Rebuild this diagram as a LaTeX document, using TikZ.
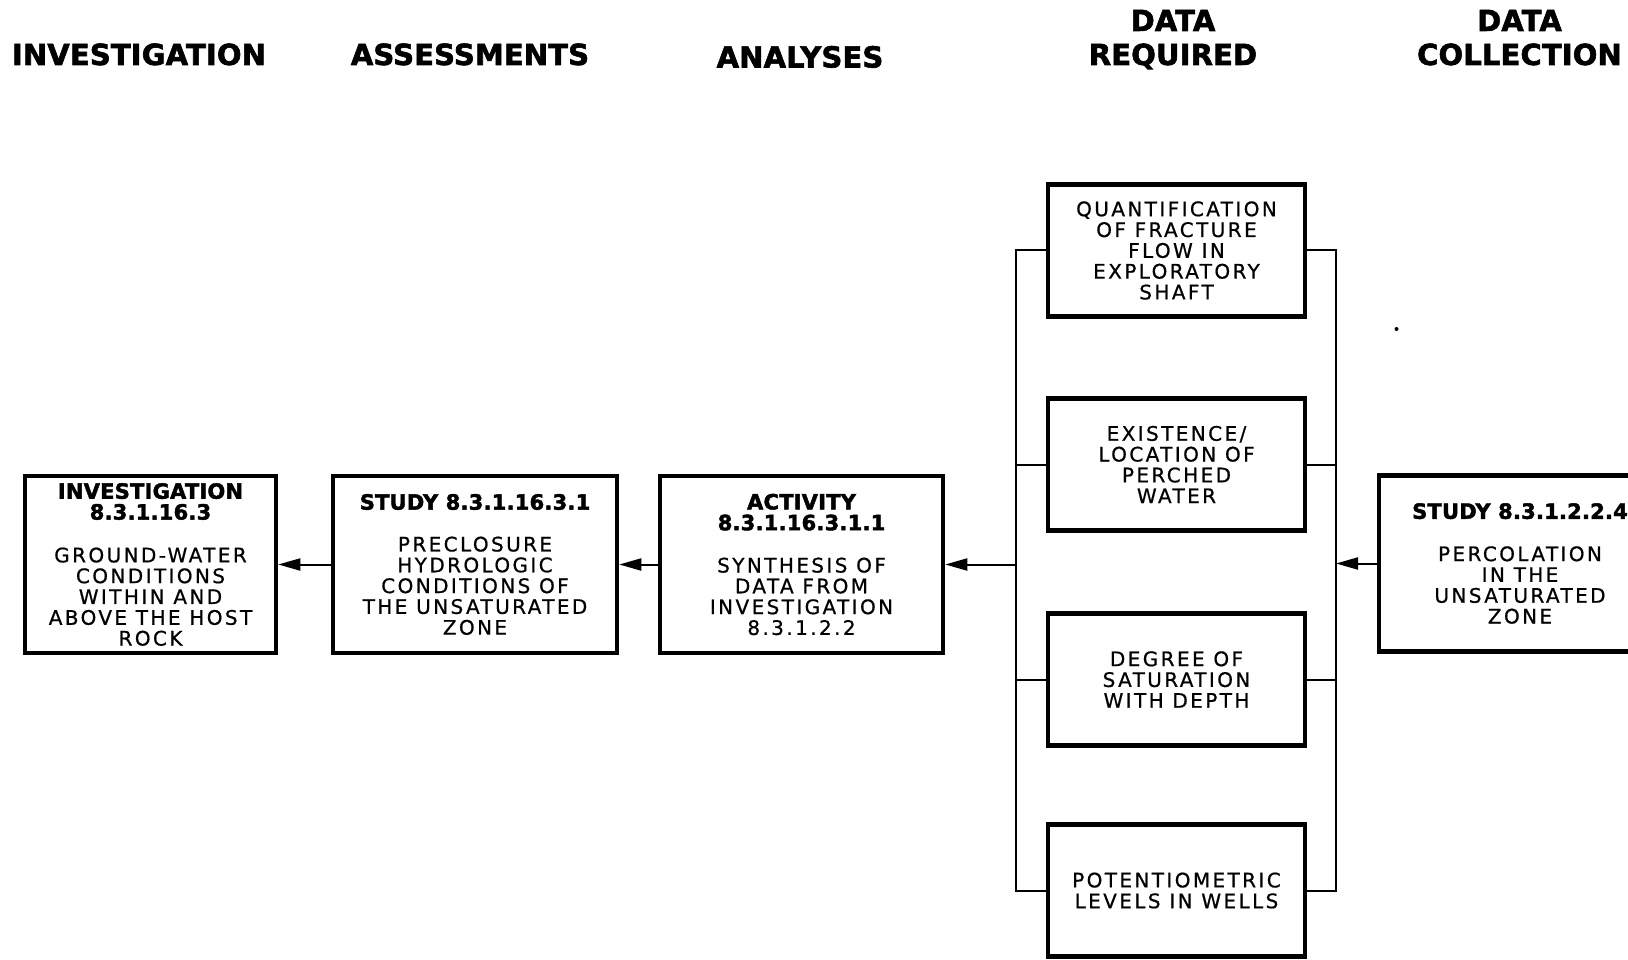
\documentclass[tikz,border=0pt]{standalone}
\usepackage{fontspec}
\usetikzlibrary{arrows.meta}
\newfontfamily\bodyfnt[LetterSpace=12,FakeBold=0.7]{DejaVu Sans}
\newfontfamily\titlefnt[LetterSpace=1,FakeBold=2]{DejaVu Sans Bold}
\newfontfamily\headfnt[LetterSpace=0.5,FakeBold=2]{DejaVu Sans Bold}
\newcommand{\tf}[1]{{\titlefnt\fontsize{21}{20.8}\selectfont #1}}
\tikzset{
  box/.style={draw, line width=4.5pt, align=center, inner sep=0pt,
    font=\bodyfnt\fontsize{20}{20.8}\selectfont},
  bigbox/.style={box, minimum height=177pt},
  databox/.style={box, minimum width=257pt, minimum height=132pt},
  conn/.style={line width=2pt},
  arr/.style={conn, -{Triangle[length=22pt,width=12pt]}},
  head/.style={anchor=base, inner sep=0pt, font=\headfnt\fontsize{29}{34}\selectfont}
}
\begin{document}
\begin{tikzpicture}[x=1pt,y=-1pt]
\useasboundingbox (0,0) rectangle (1628,960);
\fill[white] (0,0) rectangle (1628,960);
% headers
\node[head] (h1) at (139,65) {INVESTIGATION};
\node[head] (h2) at (470,65) {ASSESSMENTS};
\node[head] (h3) at (800,67.5) {ANALYSES};
\node[head] (h4a) at (1173,31) {DATA};
\node[head] (h4b) at (1173,65) {REQUIRED};
\node[head] (h5a) at (1519.5,31) {DATA};
\node[head] (h5b) at (1519.5,65) {COLLECTION};
% main row
\node[bigbox, minimum width=251pt] (b1) at (150.5,564.5)
  {\tf{INVESTIGATION}\\\tf{8.3.1.16.3}\\[22pt]GROUND-WATER\\CONDITIONS\\WITHIN AND\\ABOVE THE HOST\\ROCK};
\node[bigbox, minimum width=284pt] (b2) at (475,564.5)
  {\tf{STUDY 8.3.1.16.3.1}\\[21pt]PRECLOSURE\\HYDROLOGIC\\CONDITIONS OF\\THE UNSATURATED\\ZONE};
\node[bigbox, minimum width=283pt] (b3) at (801.5,564.5)
  {\tf{ACTIVITY}\\\tf{8.3.1.16.3.1.1}\\[21.5pt]SYNTHESIS OF\\DATA FROM\\INVESTIGATION\\8.3.1.2.2};
\node[bigbox, minimum width=282pt, minimum height=176pt] (r) at (1520,563.5)
  {\tf{STUDY 8.3.1.2.2.4}\\[21.5pt]PERCOLATION\\IN THE\\UNSATURATED\\ZONE};
% data required
\node[databox] (q) at (1176.5,250.5) {QUANTIFICATION\\OF FRACTURE\\FLOW IN\\EXPLORATORY\\SHAFT};
\node[databox] (e) at (1176.5,464.5) {EXISTENCE/\\LOCATION OF\\PERCHED\\WATER};
\node[databox] (d) at (1176.5,679.5) {DEGREE OF\\SATURATION\\WITH DEPTH};
\node[databox] (p) at (1176.5,890.5) {POTENTIOMETRIC\\LEVELS IN WELLS};
% buses
\coordinate (lb) at (1016,0);
\coordinate (rb) at (1336,0);
\draw[conn] (q.west) -- (q.west -| lb) -- (p.west -| lb) -- (p.west);
\draw[conn] (e.west) -- (e.west -| lb);
\draw[conn] (d.west) -- (d.west -| lb);
\draw[conn] (q.east) -- (q.east -| rb) -- (p.east -| rb) -- (p.east);
\draw[conn] (e.east) -- (e.east -| rb);
\draw[conn] (d.east) -- (d.east -| rb);
% arrows
\coordinate (lm) at (b3.east -| lb);
\coordinate (rm) at (r.west -| rb);
\draw[arr] (lm) -- (b3.east);
\draw[arr] (b3.west) -- (b2.east);
\draw[arr] (b2.west) -- (b1.east);
\draw[arr] (r.west) -- (rm);
% speck
\fill (1396.5,329) circle (2pt);
\end{tikzpicture}
\end{document}
